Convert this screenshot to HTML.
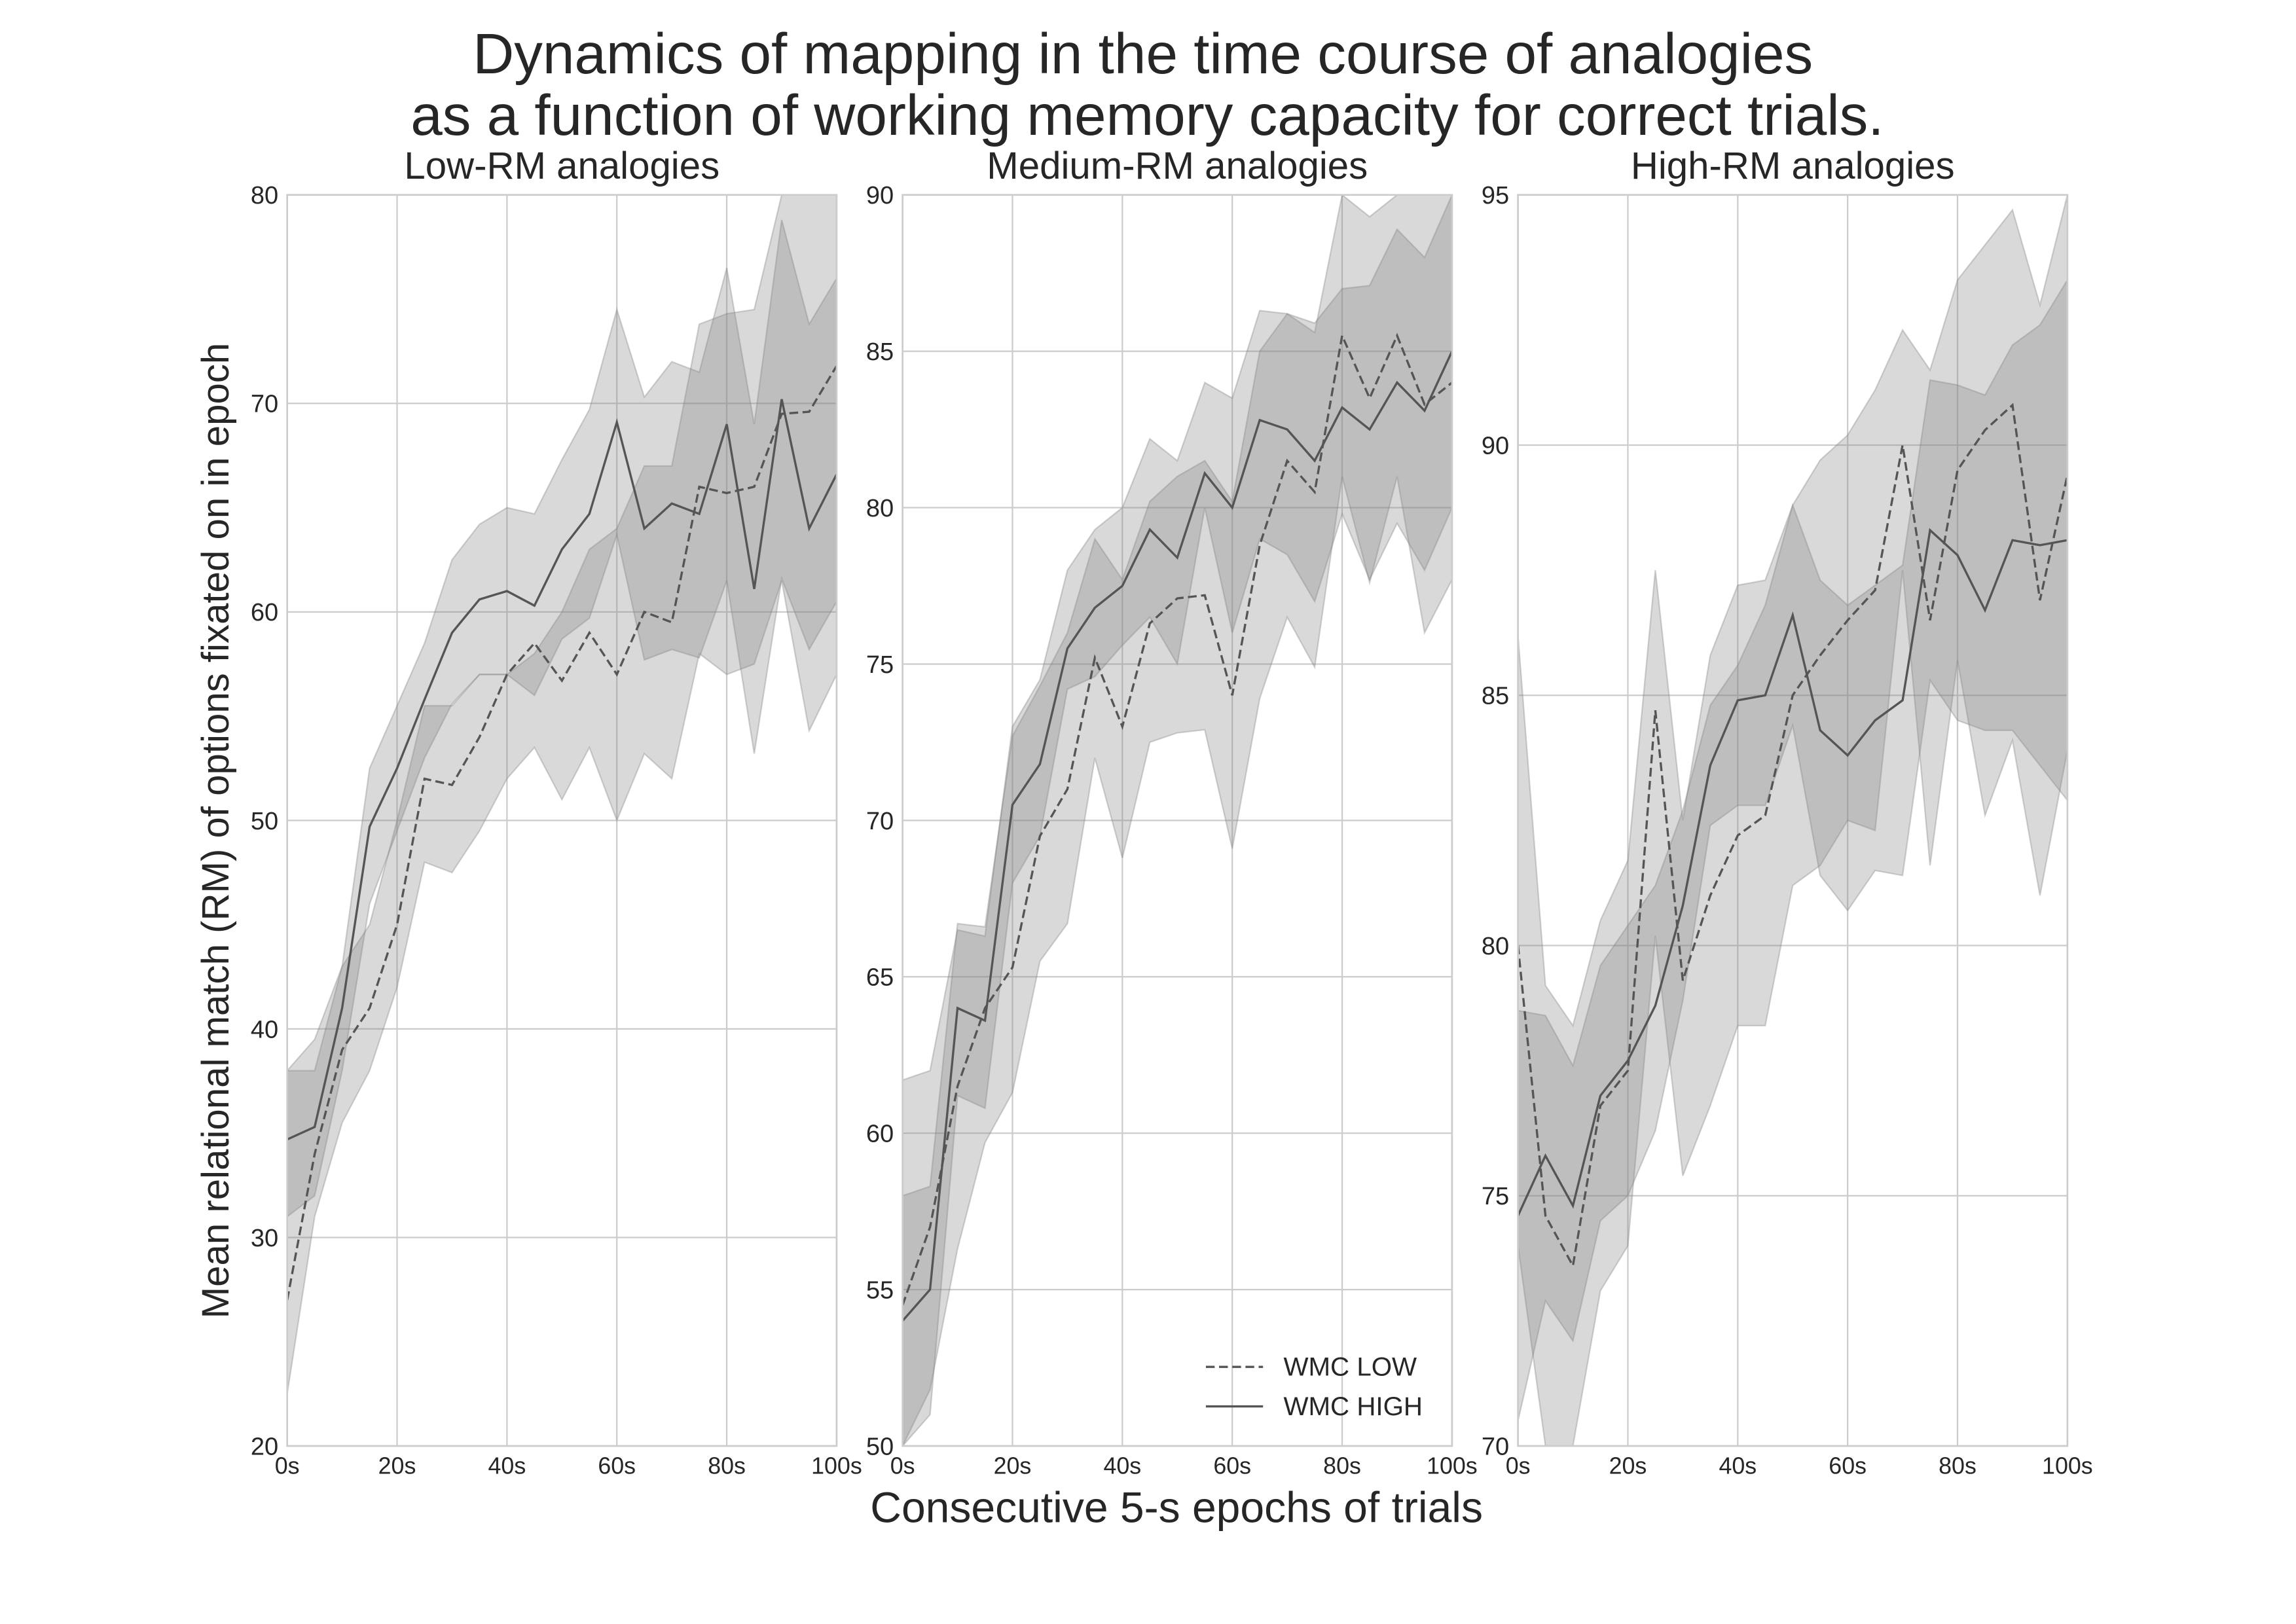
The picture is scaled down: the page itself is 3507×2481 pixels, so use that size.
<!DOCTYPE html>
<html><head><meta charset="utf-8"><style>
html,body{margin:0;padding:0;background:#fff}
svg{display:block;font-family:"Liberation Sans",sans-serif}
</style></head><body>
<svg id="chart" width="3507" height="2481" viewBox="0 0 1567 1108.5" xmlns="http://www.w3.org/2000/svg">
<rect width="1567" height="1108.5" fill="#fff"/>
<text x="780" y="50" text-anchor="middle" font-size="39" fill="#262626">Dynamics of mapping in the time course of analogies</text>
<text x="783" y="92" text-anchor="middle" font-size="39" fill="#262626">as a function of working memory capacity for correct trials.</text>
<text transform="translate(156,567) rotate(-90)" text-anchor="middle" font-size="26" fill="#262626">Mean relational match (RM) of options fixated on in epoch</text>
<text x="803" y="1039" text-anchor="middle" font-size="29.5" fill="#262626">Consecutive 5-s epochs of trials</text>
<g id="panels"></g>
<g>
<line x1="823" y1="933" x2="862" y2="933" stroke="#555" stroke-width="1.5" stroke-dasharray="6,3"/>
<text x="876" y="939" font-size="18" fill="#262626">WMC LOW</text>
<line x1="823" y1="960" x2="862" y2="960" stroke="#555" stroke-width="1.5"/>
<text x="876" y="966" font-size="18" fill="#262626">WMC HIGH</text>
</g>
</svg>
<script>
const times=[0,5,10,15,20,25,30,35,40,45,50,55,60,65,70,75,80,85,90,95,100];
const xTickLabels=["0s","20s","40s","60s","80s","100s"];
const panelTitles=["Low-RM analogies","Medium-RM analogies","High-RM analogies"];
const yDomains=[[20,80],[50,90],[70,95]];
const yTickSteps=[10,5,5];
const lowMean1=[27,34,39,41,45,52,51.7,54,57,58.5,56.7,59,57,60,59.5,66,65.7,66,69.5,69.6,71.8];
const lowUp1=[38,38,43,45,50,55.5,55.5,57,57,58,60,63,64,67,67,73.8,74.3,74.5,80,80,80];
const lowLo1=[22.5,31,35.5,38,42,48,47.5,49.5,52,53.5,51,53.5,50,53.2,52,58,57,57.5,61.5,54.3,57];
const highMean1=[34.7,35.3,41,49.7,52.5,55.8,59,60.6,61,60.3,63,64.7,69.1,64,65.2,64.7,69,61.1,70.2,64,66.6];
const highUp1=[38,39.5,43,52.5,55.5,58.5,62.5,64.2,65,64.7,67.3,69.7,74.5,70.3,72,71.5,76.5,69,78.8,73.8,76];
const highLo1=[31,32,38,46,49.5,53,55.6,57,57,56,58.7,59.7,63.7,57.7,58.2,57.8,61.5,53.2,61.6,58.2,60.5];
const lowMean2=[54.5,57,61.5,64,65.3,69.5,71,75.2,73,76.3,77.1,77.2,74,78.8,81.5,80.5,85.5,83.5,85.5,83.3,84];
const lowUp2=[61.7,62,66.5,66.3,73,74.5,78,79.3,80,82.2,81.5,84,83.5,86.3,86.2,85.6,90.2,89.3,90.3,90,90.2];
const lowLo2=[50,51.8,56.3,59.7,61.3,65.5,66.7,72,68.8,72.5,72.8,72.9,69.1,73.9,76.5,74.9,81,77.6,81,76,77.7];
const highMean2=[54,55,64,63.6,70.5,71.8,75.5,76.8,77.5,79.3,78.4,81.1,80,82.8,82.5,81.5,83.2,82.5,84,83.1,85];
const highUp2=[58,58.3,66.7,66.6,72.7,74.3,76,79,77.7,80.2,81,81.5,80.2,85,86.2,85.9,87,87.1,88.9,88,90];
const highLo2=[49,51,61.2,60.8,68,69.5,74.2,74.6,75.6,76.5,75,80,76,79,78.5,77,79.8,77.7,79.5,78,80];
const lowMean3=[80,74.6,73.6,76.8,77.5,84.7,79.3,81,82.2,82.6,85,85.8,86.5,87.1,90,86.5,89.5,90.3,90.8,86.9,89.4];
const lowUp3=[86.2,79.2,78.4,80.5,81.7,87.5,82.5,85.8,87.2,87.3,88.8,89.7,90.2,91.1,92.3,91.5,93.3,94,94.7,92.8,95];
const lowLo3=[74,70,68.8,73.1,74,80.2,75.4,76.8,78.4,78.4,81.2,81.6,82.5,82.3,87.5,81.6,85.7,82.6,84.1,81,83.9];
const highMean3=[74.6,75.8,74.8,77,77.7,78.8,80.8,83.6,84.9,85,86.6,84.3,83.8,84.5,84.9,88.3,87.8,86.7,88.1,88,88.1];
const highUp3=[78.7,78.6,77.6,79.6,80.4,81.2,82.7,84.8,85.6,86.8,88.8,87.3,86.8,87.2,87.6,91.3,91.2,91,92,92.4,93.3];
const highLo3=[70.5,72.9,72.1,74.5,75,76.3,78.9,82.4,82.8,82.8,84.4,81.4,80.7,81.5,81.4,85.3,84.5,84.3,84.3,83.6,82.9];

const series=[
 [lowMean1,lowUp1,lowLo1,highMean1,highUp1,highLo1],
 [lowMean2,lowUp2,lowLo2,highMean2,highUp2,highLo2],
 [lowMean3,lowUp3,lowLo3,highMean3,highUp3,highLo3]];
const NS="http://www.w3.org/2000/svg";
const root=document.getElementById("panels");
const lefts=[196,616,1036],W=375,T=133,B=987;
function mk(tag,attrs,parent){const e=document.createElementNS(NS,tag);for(const k in attrs)e.setAttribute(k,attrs[k]);parent.appendChild(e);return e;}
series.forEach((s,p)=>{
 const L=lefts[p],[y0,y1]=yDomains[p];
 const xs=t=>L+t/100*W;
 const ys=v=>B-(Math.min(Math.max(v,y0),y1)-y0)/(y1-y0)*(B-T);
 const g=mk("g",{},root);
 
 
 const clip=mk("clipPath",{id:"c"+p},g);mk("rect",{x:L,y:T,width:W,height:B-T},clip);
 for(let v=y0;v<=y1+1e-9;v+=yTickSteps[p]){
  const y=ys(v);
  mk("line",{x1:L,x2:L+W,y1:y,y2:y,stroke:"#cccccc","stroke-width":1},g);
  const t=mk("text",{x:L-6,y:y+6,"text-anchor":"end","font-size":17,fill:"#262626"},g);
  
  
  t.textContent=v;
 }
 xTickLabels.forEach((lb,i)=>{
  const x=xs(i*20);
  mk("line",{x1:x,x2:x,y1:T,y2:B,stroke:"#cccccc","stroke-width":1},g);
  const t=mk("text",{x:x,y:B+19,"text-anchor":"middle","font-size":16,fill:"#262626"},g);
  
  
  t.textContent=lb;
 });
 const pg=mk("g",{"clip-path":"url(#c"+p+")"},g);
 function band(up,lo,name){
  let d="M"+times.map((t,i)=>xs(t)+","+ys(up[i])).join("L");
  d+="L"+times.slice().reverse().map((t,j)=>{const i=times.length-1-j;return xs(t)+","+ys(lo[i]);}).join("L")+"Z";
  const e=mk("path",{d:d,fill:"rgba(128,128,128,0.3)",stroke:"rgba(128,128,128,0.35)","stroke-width":1},pg);
  
  
 }
 band(s[1],s[2],'band-wmc-low');
 band(s[4],s[5],'band-wmc-high');
 function line(m,dash,name){
  const e=mk("polyline",{points:times.map((t,i)=>xs(t)+","+ys(m[i])).join(" "),fill:"none",stroke:"#555","stroke-width":1.5},pg);
  if(dash)e.setAttribute("stroke-dasharray","6,3");
  
  
 }
 line(s[0],true,'line-wmc-low');
 line(s[3],false,'line-wmc-high');
 mk("rect",{x:L,y:T,width:W,height:B-T,fill:"none",stroke:"#cccccc","stroke-width":1.2},g);
 const tt=mk("text",{x:L+W/2,y:122,"text-anchor":"middle","font-size":26,fill:"#262626"},g);
 
 
 tt.textContent=panelTitles[p];
});
</script>
</body></html>
